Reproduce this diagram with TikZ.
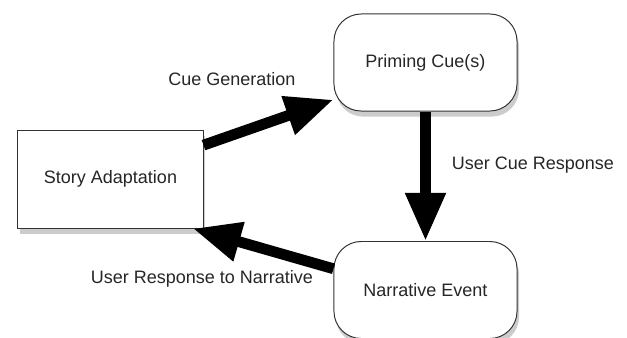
\documentclass[tikz,border=0pt]{standalone}
\usepackage{fontspec}
\setmainfont{Liberation Sans}
\usetikzlibrary{arrows.meta,shadows}

\tikzset{
	block/.style={draw=black!80, line width=0.7pt, fill=white,
		minimum width=4.625cm, minimum height=2.45cm,
		drop shadow={opacity=0.4, shadow xshift=0.5mm, shadow yshift=-1.4mm}},
	cue/.style={block, rounded corners=0.68cm,
		minimum width=4.575cm, minimum height=2.425cm},
	bigarrow/.style={line width=0.27cm,
		-{Triangle[width=0.95cm,length=1.2cm]}},
	lbl/.style={text=black!85}
}

\begin{document}
\begin{tikzpicture}[x=0.025cm, y=-0.025cm,
	every node/.style={font=\fontsize{12.8}{15}\selectfont, text=black!85}]
		
		\useasboundingbox (0,0) rectangle (627,337);
		
		% Story adaptation
		\node [block] (story) at (110.5,179) {Story Adaptation};
		
		% Priming cue
		\node [cue] (prime) at (425.5,62.5) {Priming Cue(s)};
		
		% Narrative event
		\node [cue] (event) at (425.5,290) {Narrative Event};
		
		\draw [bigarrow] (story.20) -- (prime.202);
		
		\draw [bigarrow] (prime.south) -- (event.north);
		
		\draw [bigarrow] (event.167) -- (story.-31);
		
		\node[lbl] (gen) at (232,79) {Cue Generation};
		
		\node[lbl] (resp) at (533,165) {User Cue Response};
		
		\node[lbl] (narr) at (202,279) {User Response to Narrative};
		
	\end{tikzpicture}
\end{document}
